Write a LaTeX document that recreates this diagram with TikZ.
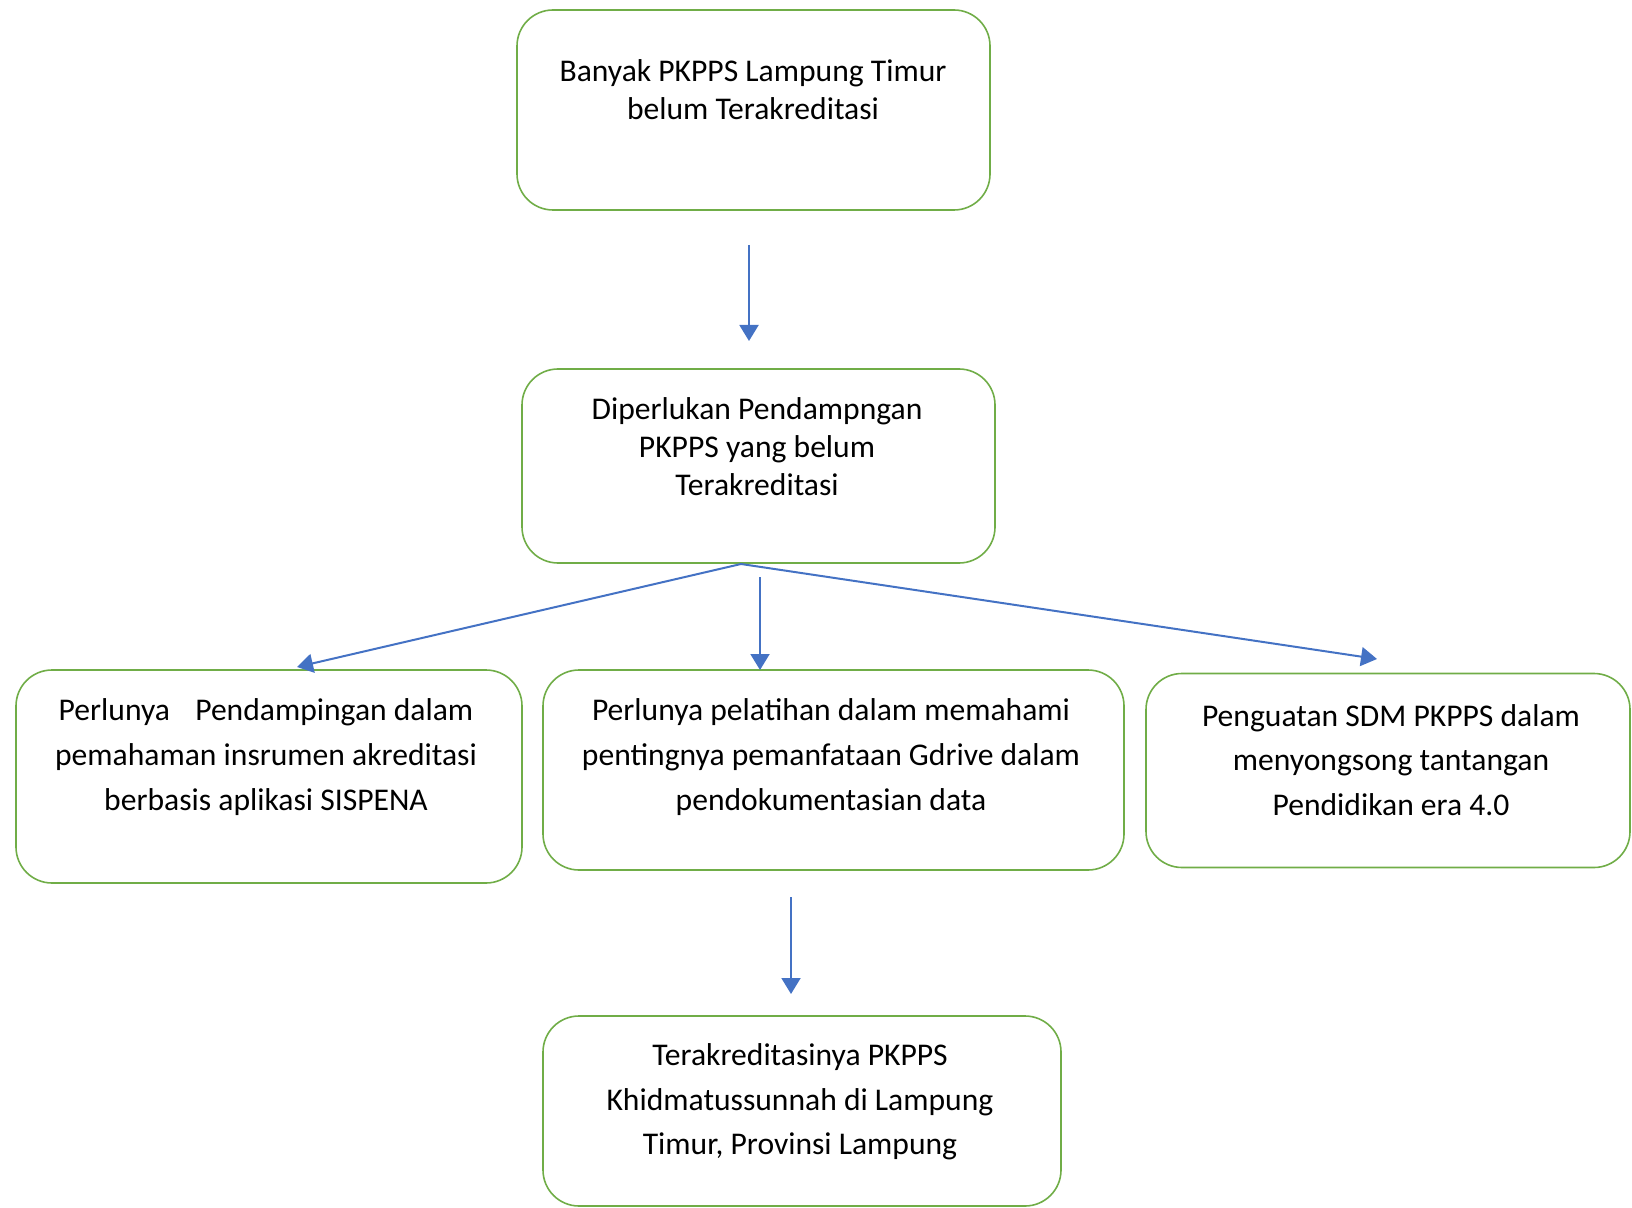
\documentclass[tikz,border=0pt]{standalone}
\usepackage{fontspec}
\setmainfont{Carlito}
\usetikzlibrary{positioning,arrows.meta}
\definecolor{boxgreen}{RGB}{112,173,71}
\definecolor{arrowblue}{RGB}{68,114,196}

\begin{document}
\begin{tikzpicture}[x=0.5pt,y=-0.5pt,
    box/.style={draw=boxgreen, line width=0.8pt, rounded corners=18pt, fill=white},
    txt/.style={align=center, font=\fontsize{15.8}{19}\selectfont, inner sep=0pt},
    txtwide/.style={txt, font=\fontsize{15.8}{22.3}\selectfont},
    flow/.style={draw=arrowblue, line width=1pt, -{Triangle[length=8pt,width=9.5pt]}}]
\useasboundingbox (0,0) rectangle (1632,1208);

\node[box, minimum width=236.5pt, minimum height=100pt] (masalah) at (753.5,110) {};
\node[txt] (masalahtxt) at (753,90) {Banyak PKPPS Lampung Timur\\belum Terakreditasi};

\node[box, minimum width=236.5pt, minimum height=97pt] (pendampingan) at (758.5,466) {};
\node[txt] (pendampingantxt) at (757,446.5) {Diperlukan Pendampngan\\PKPPS yang belum\\Terakreditasi};

\node[box, minimum width=253pt, minimum height=106.5pt] (instrumen) at (269,776.5) {};
\node[txtwide] (instrumentxt) at (266,757) {Perlunya\hspace{0.8em}Pendampingan dalam\\pemahaman insrumen akreditasi\\berbasis aplikasi SISPENA};

\node[box, minimum width=290.5pt, minimum height=100pt] (pelatihan) at (833.5,770) {};
\node[txtwide] (pelatihantxt) at (831,757) {Perlunya pelatihan dalam memahami\\pentingnya pemanfataan Gdrive dalam\\pendokumentasian data};

\node[box, minimum width=242pt, minimum height=97pt] (sdm) at (1388,770.5) {};
\node[txtwide] (sdmtxt) at (1391,760) {Penguatan SDM PKPPS dalam\\menyongsong tantangan\\Pendidikan era 4.0};

\node[box, minimum width=259pt, minimum height=95pt] (hasil) at (802,1111) {};
\node[txtwide] (hasiltxt) at (800,1102) {Terakreditasinya PKPPS\\Khidmatussunnah di Lampung\\Timur, Provinsi Lampung};

\coordinate (turun1) at (749,245);
\coordinate (turun2) at (749,341);
\coordinate (cabang) at (741,564);
\coordinate (kiri) at (297,667);
\coordinate (tengah1) at (760,577);
\coordinate (tengah2) at (760,670);
\coordinate (kanan) at (1377,659);
\coordinate (akhir1) at (791,897);
\coordinate (akhir2) at (791,994);

\draw[flow] (turun1) -- (turun2);
\draw[flow] (cabang) -- (kiri);
\draw[flow] (tengah1) -- (tengah2);
\draw[flow] (cabang) -- (kanan);
\draw[flow] (akhir1) -- (akhir2);
\end{tikzpicture}
\end{document}
